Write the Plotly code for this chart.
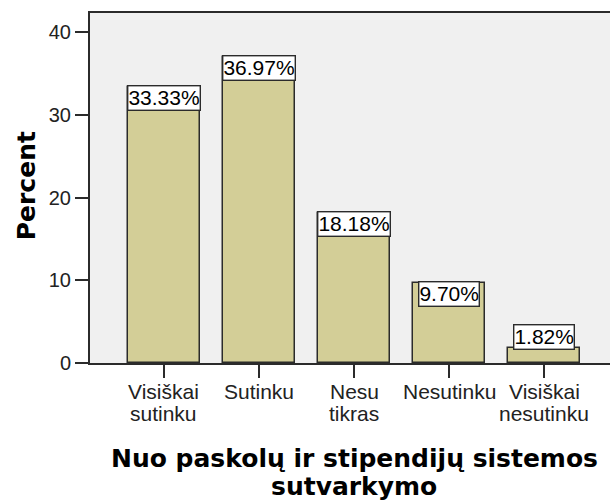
import plotly.graph_objects as go

categories = ["Visiškai<br>sutinku", "Sutinku", "Nesu<br>tikras", "Nesutinku", "Visiškai<br>nesutinku"]
percent = [33.33, 36.97, 18.18, 9.70, 1.82]
label_text = ["33.33%", "36.97%", "18.18%", "9.70%", "1.82%"]
y_ticks = [0, 10, 20, 30, 40]
x_title_lines = ["Nuo paskolų ir stipendijų sistemos", "sutvarkymo"]

x_pos = list(range(len(categories)))
PLOT_TOP, PLOT_BOTTOM = 13, 363


def ypx(px):
    return (PLOT_BOTTOM - px) / (PLOT_BOTTOM - PLOT_TOP)


fig = go.Figure()
fig.add_trace(go.Bar(
    x=x_pos, y=percent, width=0.757,
    marker=dict(color="#D3CE97", line=dict(color="#2b2b2b", width=1.5)),
    hoverinfo="skip",
))

for xi, v, t in zip(x_pos, percent, label_text):
    inside = v > 5
    fig.add_annotation(
        x=xi, y=v, xref="x", yref="y", text=t, showarrow=False,
        yanchor="top" if inside else "bottom",
        yshift=2 if inside else -2,
        font=dict(family="Liberation Sans, Arial, sans-serif", size=21, color="#000"),
        bgcolor="#FFFFFF", bordercolor="#2b2b2b", borderwidth=1.4, borderpad=0,
    )

# category labels, line by line (tight line spacing as in reference)
for xi, cat in zip(x_pos, categories):
    for li, line in enumerate(cat.split("<br>")):
        fig.add_annotation(
            x=xi, xref="x", yref="paper", y=ypx(391 + 22 * li), yanchor="middle",
            text=line, showarrow=False,
            font=dict(family="Liberation Sans, Arial, sans-serif", size=21, color="#222"),
        )

for li, line in enumerate(x_title_lines):
    fig.add_annotation(
        xref="paper", yref="paper", x=(354 - 90) / 520, y=ypx(458 + 28 * li), yanchor="middle",
        text="<b>" + line + "</b>", showarrow=False,
        font=dict(family="DejaVu Sans, Verdana, sans-serif", size=25, color="#000"),
    )

fig.add_annotation(
    xref="paper", yref="paper", x=(26 - 90) / 520, y=0.505, xanchor="center", yanchor="middle",
    text="<b>Percent</b>", textangle=-90, showarrow=False,
    font=dict(family="DejaVu Sans, Verdana, sans-serif", size=25, color="#000"),
)

fig.update_layout(
    width=610, height=504,
    margin=dict(l=90, r=0, t=PLOT_TOP, b=504 - PLOT_BOTTOM),
    paper_bgcolor="#FFFFFF", plot_bgcolor="#F0F0F0",
    showlegend=False, bargap=0,
)

fig.update_xaxes(
    range=[-0.778, 4.69], tickvals=x_pos, ticktext=[""] * len(x_pos),
    showline=True, linecolor="#2b2b2b", linewidth=2, mirror=True,
    ticks="outside", ticklen=13, tickwidth=1.5, tickcolor="#2b2b2b",
    showgrid=False, zeroline=False,
)
fig.update_yaxes(
    range=[0, 42.3], tickvals=y_ticks,
    showline=True, linecolor="#2b2b2b", linewidth=2, mirror=False,
    ticks="outside", ticklen=13, tickwidth=1.5, tickcolor="#2b2b2b",
    showgrid=False, zeroline=False,
    tickfont=dict(family="Liberation Sans, Arial, sans-serif", size=20, color="#222"),
)

fig.write_html(
    "out.html",
    config={"displayModeBar": False},
    post_script="document.body.style.margin='0';document.body.style.padding='0';",
)
